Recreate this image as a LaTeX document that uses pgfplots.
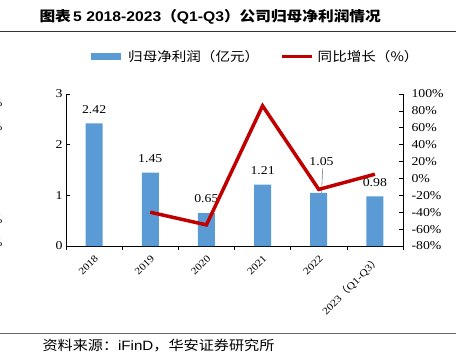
\documentclass[border=0pt]{standalone}
\usepackage{pgfplots}
\pgfplotsset{compat=1.18}
\usepackage{fontspec}
\setmainfont{Liberation Serif}[FakeStretch=1.15]
\newfontfamily\cjk{Noto Sans CJK SC}[FakeStretch=1.12]
\newfontfamily\arial{Liberation Sans}[FakeStretch=1.12]
\definecolor{barblue}{RGB}{91,155,213}
\definecolor{linered}{RGB}{192,0,0}
\begin{document}
\begin{tikzpicture}[x=1pt,y=1pt]
\useasboundingbox (0,0) rectangle (456,357);
% title
\node[anchor=west] at (36,340) {\fontsize{14}{16}\selectfont{\cjk\bfseries 图表}\,{\arial\bfseries 5 2018-2023}{\cjk\bfseries （}{\arial\bfseries Q1-Q3}{\cjk\bfseries ）公司归母净利润情况}};
\draw[line width=0.8pt, black!80] (0,326) -- (456,326);
\draw[line width=0.6pt, black!60] (0,24) -- (456,24);
\node[anchor=west] at (39,11) {\fontsize{13.5}{14}\selectfont{\cjk 资料来源：}{\arial iFinD}{\cjk ，华安证券研究所}};
% clipped neighbour text at left edge
\foreach \yy in {254,230,137,114} {\node[anchor=east,font=\fontsize{11}{12}\selectfont] at (6,\yy) {0\%};}
\begin{axis}[
  at={(66pt,111pt)}, anchor=south west,
  scale only axis, width=337pt, height=152pt,
  xmin=-0.5, xmax=5.5, ymin=0, ymax=3,
  /pgf/number format/assume math mode=true,
  axis x line*=bottom, axis y line*=left,
  axis line style={line width=0.8pt},
  xtick={0,...,5},
  xticklabels={2018,2019,2020,2021,2022,{2023{\cjk （}Q1-Q3{\cjk ）}}},
  major x tick style={draw=none},
  minor xtick={-0.5,0.5,...,5.5},
  minor tick length=4pt,
  ytick={0,1,2,3},
  tick align=inside,
  major tick length=4pt,
  tick style={black, line width=0.6pt},
  xticklabel style={rotate=45, anchor=north east, font=\fontsize{10}{11}\selectfont, inner sep=1pt, yshift=-2pt, xshift=-2pt},
  yticklabel style={font=\fontsize{12}{13}\selectfont},
  ybar, bar width=17pt,
  point meta=explicit symbolic,
  nodes near coords={\pgfplotspointmeta},
  nodes near coords style={font=\fontsize{12}{13}\selectfont, anchor=center, yshift=14pt},
  clip=false,
]
\addplot[fill=barblue, draw=none]
  coordinates {(0,2.42)[2.42] (1,1.45)[1.45] (2,0.65)[0.65] (3,1.21)[1.21] (4,1.05)[{}] (5,0.98)[0.98]};
\draw[gray, line width=0.6pt] (axis cs:4.05,1.05) -- (axis cs:4.07,1.53);
\node[font=\fontsize{12}{13}\selectfont] at (axis cs:4.05,1.66) {1.05};
\end{axis}
\begin{axis}[
  at={(66pt,111pt)}, anchor=south west,
  scale only axis, width=337pt, height=152pt,
  xmin=-0.5, xmax=5.5, ymin=-80, ymax=100,
  /pgf/number format/assume math mode=true,
  axis x line=none, axis y line*=right,
  axis line style={line width=0.8pt},
  ytick={-80,-60,...,100},
  yticklabel={\pgfmathprintnumber{\tick}\%},
  tick align=inside, major tick length=4pt,
  tick style={black, line width=0.6pt},
  yticklabel style={font=\fontsize{12}{13}\selectfont, anchor=west, xshift=5pt},
  legend style={at={(axis description cs:0,1)}, anchor=south west, xshift=18pt, yshift=28pt, draw=none, fill=none,
    font=\fontsize{13}{14}\selectfont\cjk, legend columns=2, column sep=3pt,
    /tikz/every even column/.append style={column sep=20pt},
    nodes={inner sep=1pt}},
  legend image code/.code={\draw[#1] (0pt,0pt) -- (30pt,0pt);},
]
\addlegendimage{barblue, line width=7pt}
\addlegendentry{归母净利润（亿元）}
\addplot[linered, line width=3.5pt] coordinates {(1,-40) (2,-55) (3,86) (4,-13) (5,5)};
\addlegendentry{同比增长（\%）}
\end{axis}
\end{tikzpicture}
\end{document}
